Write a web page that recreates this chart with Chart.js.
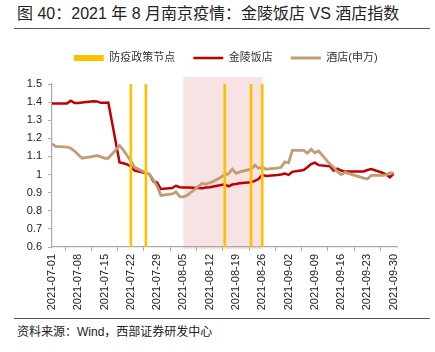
<!DOCTYPE html>
<html>
<head>
<meta charset="utf-8">
<script src="https://cdn.jsdelivr.net/npm/chart.js@4.4.1/dist/chart.umd.min.js"></script>
<style>
  body { margin: 0; width: 435px; height: 352px; overflow: hidden; background: #fff; position: relative;
         font-family: "Liberation Sans", "Noto Sans CJK SC", sans-serif; color: #222; }
  #title { position: absolute; left: 17px; top: 6px; font-size: 16px; line-height: 16px; white-space: nowrap; }
  .rule { position: absolute; left: 14px; width: 416px; height: 1px; background: #555; }
  #source { position: absolute; left: 17px; top: 325px; font-size: 12px; line-height: 14px; white-space: nowrap; }
  #chart { position: absolute; left: 0; top: 30px; }
</style>
</head>
<body>
<div id="title">图 40：2021 年 8 月南京疫情：金陵饭店 VS 酒店指数</div>
<div class="rule" style="top:28px"></div>
<canvas id="chart" width="410" height="288"></canvas>
<div class="rule" style="top:318px"></div>
<div id="source">资料来源：Wind，西部证券研发中心</div>
<script>
// trading days
const tradeDates = [
    '2021-07-01', '2021-07-02', '2021-07-05', '2021-07-06', '2021-07-07', '2021-07-08', '2021-07-09',
    '2021-07-12', '2021-07-13', '2021-07-14', '2021-07-15', '2021-07-16', '2021-07-19', '2021-07-20',
    '2021-07-21', '2021-07-22', '2021-07-23', '2021-07-26', '2021-07-27', '2021-07-28', '2021-07-29',
    '2021-07-30',
    '2021-08-02', '2021-08-03', '2021-08-04', '2021-08-05', '2021-08-06', '2021-08-09', '2021-08-10',
    '2021-08-11', '2021-08-12', '2021-08-13', '2021-08-16', '2021-08-17', '2021-08-18', '2021-08-19',
    '2021-08-20', '2021-08-23', '2021-08-24', '2021-08-25', '2021-08-26', '2021-08-27', '2021-08-30',
    '2021-08-31',
    '2021-09-01', '2021-09-02', '2021-09-03', '2021-09-06', '2021-09-07', '2021-09-08', '2021-09-09',
    '2021-09-10', '2021-09-13', '2021-09-14', '2021-09-15', '2021-09-16', '2021-09-17', '2021-09-22',
    '2021-09-23', '2021-09-24', '2021-09-27', '2021-09-28', '2021-09-29', '2021-09-30'
];
const jinling = [
    1.393, 1.393, 1.393, 1.408, 1.395, 1.395, 1.398, 1.405, 1.404, 1.396, 1.397, 1.398, 1.067, 1.062,
    1.056, 1.045, 1.022, 1.009, 1.001, 0.962, 0.956, 0.920,
    0.926, 0.938, 0.930, 0.928, 0.928, 0.926, 0.925, 0.928, 0.930, 0.934, 0.946, 0.935, 0.945, 0.948,
    0.952, 0.958, 0.965, 0.975, 0.998, 0.992, 0.997, 1.000,
    1.005, 0.998, 1.015, 1.025, 1.040, 1.058, 1.066, 1.052, 1.046, 1.022, 1.033, 1.022, 1.017, 1.017,
    1.025, 1.030, 1.010, 1.000, 0.985, 1.005
];
const hotelIndex = [
    1.170, 1.155, 1.152, 1.145, 1.130, 1.110, 1.090, 1.100, 1.105, 1.098, 1.090, 1.090, 1.160, 1.135,
    1.105, 1.075, 1.040, 1.010, 1.000, 0.970, 0.935, 0.885,
    0.893, 0.905, 0.878, 0.877, 0.885, 0.935, 0.952, 0.946, 0.955, 0.962, 0.998, 1.004, 1.030, 1.007,
    1.015, 1.030, 1.052, 1.035, 1.042, 1.030, 1.035, 1.040,
    1.070, 1.065, 1.133, 1.133, 1.118, 1.140, 1.120, 1.130, 1.058, 1.040, 1.015, 1.000, 1.012, 0.980,
    0.975, 0.995, 0.995, 0.998, 1.010, 1.007
];
const policyDates = ['2021-07-22', '2021-07-26', '2021-08-16', '2021-08-23', '2021-08-26'];
const outbreakSpan = ['2021-08-05', '2021-08-26'];
const tickDates = [
    '2021-07-01', '2021-07-08', '2021-07-15', '2021-07-22', '2021-07-29', '2021-08-05', '2021-08-12',
    '2021-08-19', '2021-08-26', '2021-09-02', '2021-09-09', '2021-09-16', '2021-09-23', '2021-09-30'
];
const axisEnd = '2021-10-01';

const dayOf = s => (Date.parse(s) - Date.parse(tradeDates[0])) / 86400000;
const fontFamily = '"Liberation Sans", "Noto Sans CJK SC", sans-serif';
const axisColor = '#AAAAAA';

const shade = {
    id: 'shade',
    beforeDraw(chart) {
        const {ctx, chartArea, scales} = chart;
        const x1 = scales.x.getPixelForValue(dayOf(outbreakSpan[0]));
        const x2 = scales.x.getPixelForValue(dayOf(outbreakSpan[1]));
        ctx.save();
        ctx.fillStyle = '#F7E3E3';
        ctx.fillRect(x1, chartArea.top - 7, x2 - x1, chartArea.bottom - chartArea.top + 9);
        ctx.restore();
    }
};

// more room under the legend, and nudge it a little to the left
const legendSpace = {
    id: 'legendSpace',
    beforeInit(chart) {
        if (!chart.legend) return;
        const fit = chart.legend.fit;
        chart.legend.fit = function () {
            fit.call(this);
            this.height = 49.5;
        };
    },
    afterLayout(chart) {
        if (!chart.legend) return;
        chart.legend.left -= 6;
        chart.legend.right -= 6;
    }
};

new Chart(document.getElementById('chart'), {
    type: 'line',
    data: {
        datasets: [{
            type: 'bar',
            label: '防疫政策节点',
            data: policyDates.map(d => ({x: dayOf(d), y: 1.5})),
            backgroundColor: '#FFC000',
            borderWidth: 0,
            barThickness: 2,
            pointStyle: 'rect',
            order: 0
        }, {
            label: '金陵饭店',
            data: tradeDates.map((d, i) => ({x: dayOf(d), y: jinling[i]})),
            borderColor: '#C00000',
            backgroundColor: '#C00000',
            borderWidth: 2.5,
            pointRadius: 0,
            pointStyle: 'line',
            order: 2
        }, {
            label: '酒店(申万)',
            data: tradeDates.map((d, i) => ({x: dayOf(d), y: hotelIndex[i]})),
            borderColor: '#C29C74',
            backgroundColor: '#C29C74',
            borderWidth: 2.8,
            pointRadius: 0,
            pointStyle: 'line',
            order: 1
        }]
    },
    options: {
        responsive: false,
        animation: false,
        devicePixelRatio: 1,
        events: [],
        layout: {padding: {top: 4.5, right: 8.4, left: 0, bottom: 0}},
        plugins: {
            legend: {
                align: 'end',
                labels: {
                    usePointStyle: true,
                    pointStyleWidth: 30,
                    boxHeight: 6,
                    padding: 18,
                    color: '#333',
                    font: {size: 11, family: fontFamily},
                    sort: (a, b) => a.datasetIndex - b.datasetIndex
                }
            },
            tooltip: {enabled: false}
        },
        scales: {
            x: {
                type: 'linear',
                min: 0,
                max: dayOf(axisEnd),
                offset: false,
                afterBuildTicks: s => { s.ticks = tickDates.map(d => ({value: dayOf(d)})); },
                afterFit: s => { s.height = 71; },
                grid: {drawOnChartArea: false, color: axisColor, tickLength: 4},
                border: {color: axisColor, width: 1.2},
                ticks: {
                    autoSkip: false,
                    minRotation: 90,
                    maxRotation: 90,
                    padding: 3,
                    color: '#222',
                    font: {size: 11, family: fontFamily},
                    callback: (v, i) => tickDates[i]
                }
            },
            y: {
                min: 0.6,
                max: 1.5,
                afterFit: s => { s.width = 52; },
                grid: {drawOnChartArea: false, color: axisColor, tickLength: 4},
                border: {color: axisColor, width: 1.2},
                ticks: {
                    stepSize: 0.1,
                    padding: 6,
                    color: '#222',
                    font: {size: 11, family: fontFamily},
                    callback: v => String(Math.round(v * 10) / 10)
                }
            }
        }
    },
    plugins: [shade, legendSpace]
});
</script>
</body>
</html>
